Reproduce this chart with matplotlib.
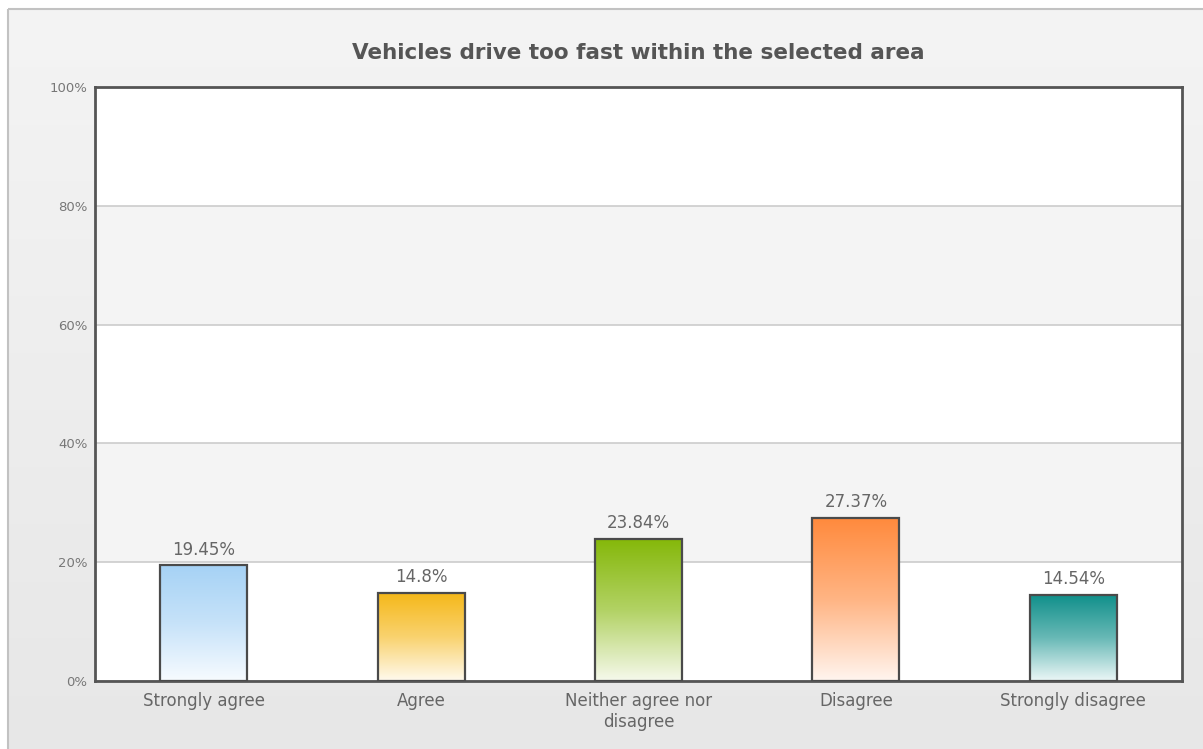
import matplotlib
matplotlib.use("Agg")
import matplotlib.pyplot as plt
import numpy as np
from matplotlib.colors import LinearSegmentedColormap, to_rgb
from matplotlib.patches import Rectangle

title = "Vehicles drive too fast within the selected area"
categories = ["Strongly agree", "Agree", "Neither agree nor\ndisagree", "Disagree", "Strongly disagree"]
values = [19.45, 14.8, 23.84, 27.37, 14.54]
value_labels = ["19.45%", "14.8%", "23.84%", "27.37%", "14.54%"]
top_colors = ["#a6d2f5", "#f5b81a", "#85b80a", "#ff8a3d", "#0f8f8a"]
bottom_colors = ["#f7fbff", "#fffaee", "#f6f9ec", "#fff5ef", "#ecf7f7"]
y_ticks = [0, 20, 40, 60, 80, 100]
y_tick_labels = ["0%", "20%", "40%", "60%", "80%", "100%"]

W, H = 1203, 749
fig = plt.figure(figsize=(W / 100, H / 100), dpi=100, facecolor="white")

# background panel
bg = fig.add_axes([0, 0, 1, 1], zorder=0)
bg.axis("off")
grad = np.linspace(0, 1, 256).reshape(-1, 1)
cmap_bg = LinearSegmentedColormap.from_list("bg", ["#f4f4f4", "#e7e7e7"])
bg.imshow(grad, cmap=cmap_bg, extent=[8, W + 5, H + 5, 9], aspect="auto")
bg.add_patch(Rectangle((8, 9), W, H, fill=False, edgecolor="#c2c2c2", lw=1.5))
bg.set_xlim(0, W)
bg.set_ylim(H, 0)

# plot area
L, R, T, B = 95, 1182, 87, 681
ax = fig.add_axes([L / W, (H - B) / H, (R - L) / W, (B - T) / H], zorder=1)
ax.set_facecolor("white")
for lo in (20, 60):
    ax.axhspan(lo, lo + 20, color="#f4f4f4", zorder=0, lw=0)
ax.set_yticks(y_ticks)
ax.set_yticklabels(y_tick_labels, fontsize=9.5, color="#777777")
ax.yaxis.grid(True, color="#cccccc", lw=1.2, zorder=1)
ax.set_axisbelow(True)


def mix(c1, c2, t):
    a, b = np.array(to_rgb(c1)), np.array(to_rgb(c2))
    return tuple(a + (b - a) * t)


x = np.arange(len(categories))
bars = ax.bar(x, values, width=0.4, facecolor="none", edgecolor="#4a4a4a", lw=1.6, zorder=4)
for b, tc, bc, lbl in zip(bars, top_colors, bottom_colors, value_labels):
    x0, w, h = b.get_x(), b.get_width(), b.get_height()
    cm = LinearSegmentedColormap.from_list(
        "c", [(0, tc), (0.5, mix(tc, bc, 0.4)), (1, bc)])
    ax.imshow(grad, cmap=cm, extent=[x0, x0 + w, 0, h], aspect="auto", zorder=3)
    ax.annotate(lbl, (x0 + w / 2, h), xytext=(0, 5), textcoords="offset points",
                ha="center", va="bottom", fontsize=12, color="#666666", zorder=5)

ax.set_xlim(-0.5, len(categories) - 0.5)
ax.set_ylim(0, 100)
ax.set_xticks(x)
ax.set_xticklabels(categories, fontsize=12, color="#666666", linespacing=1.2)
ax.tick_params(axis="both", length=0)
ax.tick_params(axis="x", pad=8)
ax.tick_params(axis="y", pad=5.5)
for s in ax.spines.values():
    s.set_color("#555555")
    s.set_linewidth(2)

fig.text(638 / W, 1 - 53 / H, title, ha="center", va="center", fontsize=15.5,
         fontweight="bold", color="#555555")

fig.savefig("out.png", dpi=100)
